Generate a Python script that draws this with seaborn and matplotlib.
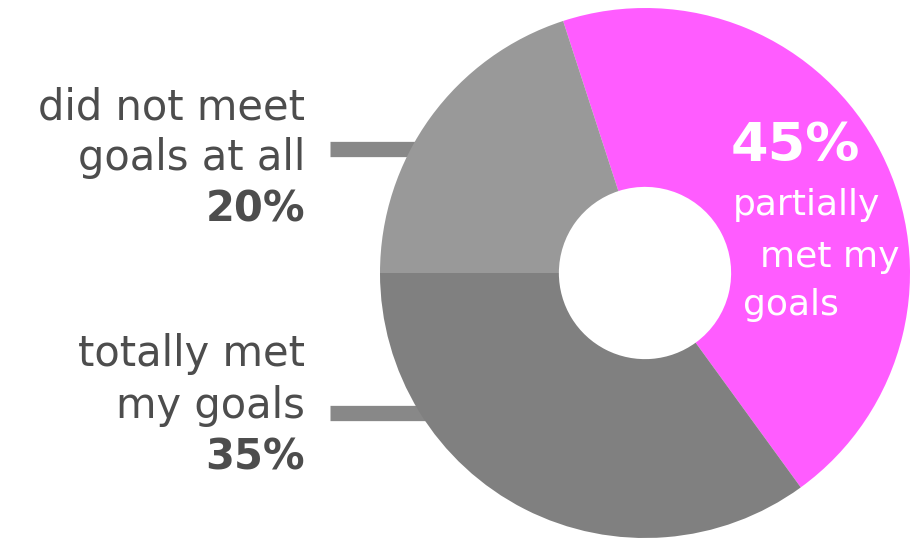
import matplotlib
matplotlib.use("Agg")
import matplotlib.pyplot as plt
import seaborn as sns

labels = ["partially met my goals", "totally met my goals", "did not meet goals at all"]
values = [45, 35, 20]
colors = ["#FF5CFF", "#808080", "#999999"]

sns.set_theme(style="white")
plt.rcParams['font.family'] = ['DejaVu Sans']

W, H = 912, 544
fig = plt.figure(figsize=(W / 100, H / 100), dpi=100)
fig.patch.set_facecolor("white")

cx, cy, R = 645, 273, 265
ax = fig.add_axes([(cx - R) / W, 1 - (cy + R) / H, 2 * R / W, 2 * R / H])

wedges, _ = ax.pie(values, colors=colors, startangle=108, counterclock=False,
                   radius=1, wedgeprops=dict(width=0.675, linewidth=0))
for w in wedges:
    w.set_zorder(2)
ax.set_xlim(-1, 1)
ax.set_ylim(-1, 1)
ax.set_aspect("equal")
ax.axis("off")

def px(x, y):
    return x / W, 1 - y / H

# leader bars
for ypix in (149, 413):
    yd = (cy - ypix) / R
    ax.plot([(330 - cx) / R, -0.8], [yd, yd], color="#888888", lw=11,
            solid_capstyle="butt", clip_on=False, zorder=1)

tc = "#4d4d4d"
fs = 30
# left labels
for txt, y, bold in [("did not meet", 119, False), ("goals at all", 170, False), ("20%", 222, True),
                     ("totally met", 366, False), ("my goals", 418, False), ("35%", 470, True)]:
    fig.text(*px(305, y), txt, ha="right", va="baseline", fontsize=fs, color=tc,
             fontweight="bold" if bold else "normal")

# right labels inside magenta
fs2 = 26
fig.text(*px(731, 161), "45%", ha="left", va="baseline", fontsize=39, color="white", fontweight="bold")
fig.text(*px(733, 215), "partially", ha="left", va="baseline", fontsize=fs2, color="white")
fig.text(*px(760, 267), "met my", ha="left", va="baseline", fontsize=fs2, color="white")
fig.text(*px(743, 315), "goals", ha="left", va="baseline", fontsize=fs2, color="white")

fig.savefig("out.png", dpi=100, facecolor="white")
